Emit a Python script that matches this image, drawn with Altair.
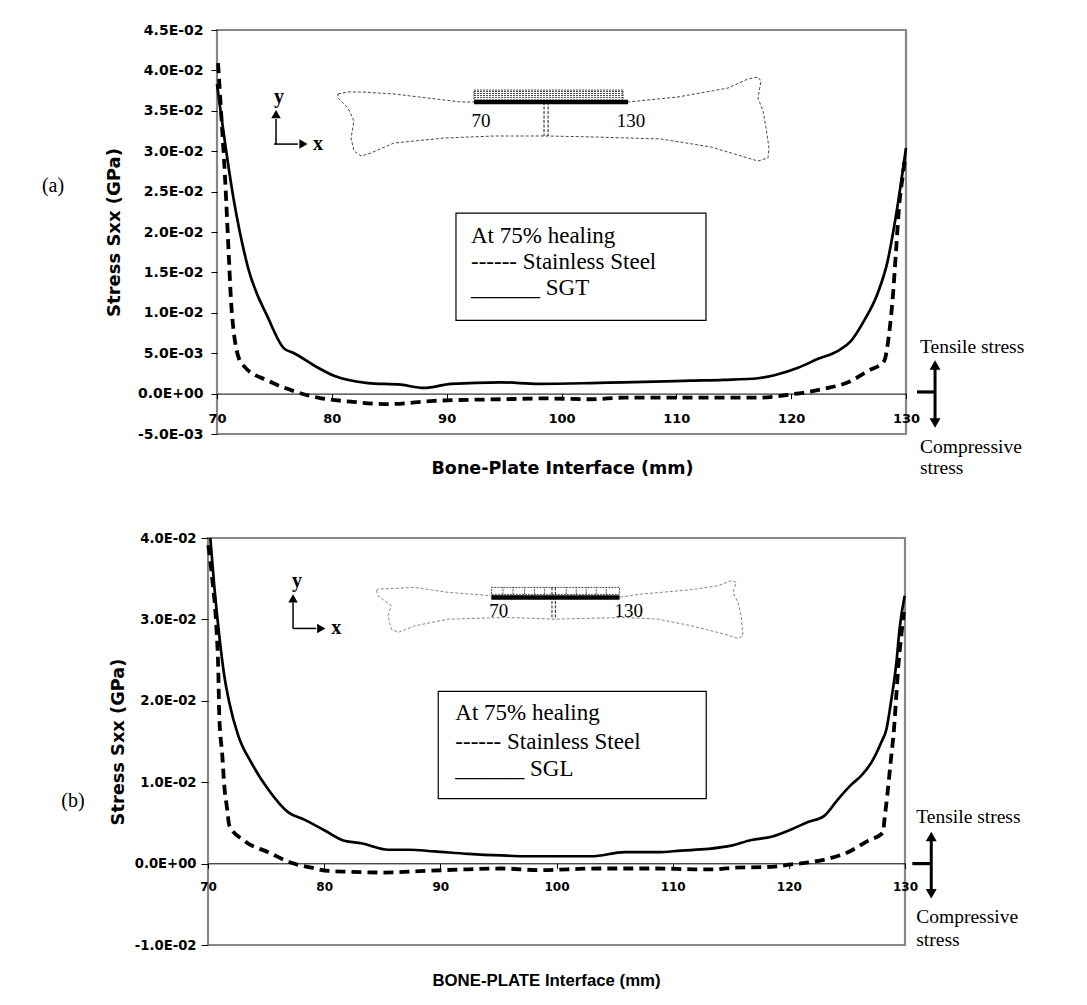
import altair as alt
import pandas as pd

SANS = "DejaVu Sans"
SERIF = "Liberation Serif"
ARIAL = "Liberation Sans"

X_TICKS = [70, 80, 90, 100, 110, 120, 130]
Y_TICKS_A = [-0.005, 0.0, 0.005, 0.01, 0.015, 0.02, 0.025, 0.03, 0.035, 0.04, 0.045]
Y_TICKS_B = [-0.01, 0.0, 0.01, 0.02, 0.03, 0.04]

# ---------------- Panel (a) : Stainless Steel vs SGT ----------------
A_SGT_X = [70.0, 71.48, 72.70, 74.44, 75.83, 76.71, 78.80, 80.19, 83.15, 86.02, 88.03, 90.38, 94.73, 98.0,
           102.57, 105.44, 111.28, 114.15, 117.11, 118.85, 120.6, 122.34, 124.08, 125.2, 126.34, 127.5,
           128.4, 129.1, 130.0]
A_SGT_Y = [0.0383, 0.0238, 0.0156, 0.0094, 0.0056, 0.0050, 0.0032, 0.0022, 0.0013, 0.0011, 0.0007, 0.0012,
           0.0014, 0.0012, 0.0013, 0.0014, 0.0016, 0.0017, 0.0019, 0.0024, 0.0032, 0.0043, 0.0053, 0.0065,
           0.0090, 0.0123, 0.0164, 0.0218, 0.0304]
A_SS_X = [70.09, 70.35, 70.70, 71.05, 71.22, 71.48, 71.83, 72.35, 74.44, 76.71, 78.80, 81.67, 84.89, 88.9,
          94.73, 98.5, 102.57, 105.44, 111.28, 117.11, 119.99, 122.86, 124.95, 126.7, 128.08, 128.52, 128.87,
          129.13, 129.39, 129.74, 129.91]
A_SS_Y = [0.0409, 0.0350, 0.0267, 0.0164, 0.0115, 0.0074, 0.0047, 0.0034, 0.0016, 0.0003, -0.0005, -0.0010,
          -0.0013, -0.0009, -0.0007, -0.0006, -0.0007, -0.0005, -0.0005, -0.0005, -0.0001, 0.0006, 0.0014,
          0.0028, 0.0040, 0.0073, 0.0123, 0.0176, 0.0230, 0.0272, 0.0291]

# bone sketch of panel (a), in chart units
BONE_A_X = [80.54, 81.41, 82.54, 85.41, 88.37, 91.25, 92.38, 105.79, 110.15, 114.5, 116.24, 117.11, 117.37,
            117.11, 117.55, 117.81, 118.07, 117.98, 117.11, 115.63, 113.02, 108.67, 102.83, 98.83, 94.12,
            89.77, 85.41, 83.41, 82.54, 81.93, 81.67, 81.93, 81.41, 80.54, 80.54]
BONE_A_Y = [0.03708, 0.03733, 0.03733, 0.03708, 0.03658, 0.03609, 0.03609, 0.03609, 0.03671, 0.03782, 0.03894,
            0.03918, 0.03869, 0.03658, 0.03498, 0.03287, 0.0304, 0.02916, 0.02879, 0.02941, 0.03052, 0.03151,
            0.03176, 0.03188, 0.03188, 0.03163, 0.03101, 0.02978, 0.02941, 0.03002, 0.03163, 0.03374, 0.03535,
            0.03658, 0.03708]

A = dict(
    name="(a)", name_xy=(55.72, 0.0257),
    ydomain=[-0.005, 0.045], yticks=Y_TICKS_A, width=698, height=404, xrange=[9, 698],
    xoff=-40.4, yoff=-9, xls=13, yls=14, xlp=14, ytick=6, ylp=8,
    xtitle="Bone-Plate Interface (mm)", xtfont=SANS, xtsize=17.5, xtX=354, xtY=74.5,
    ytsize=18, ytX=-103,
    sgt=(A_SGT_X, A_SGT_Y), ss=(A_SS_X, A_SS_Y),
    bone=(BONE_A_X, BONE_A_Y), bone_color="#333333",
    plate=(92.38, 105.79, 0.03609),
    hatch=(92.38, 105.36, 0.03633, 0.03757), hatch_h=[0.03664, 0.03689, 0.03714, 0.03739], hatch_v=[],
    gap=([98.48, 98.83], 0.03609, 0.03188),
    blabels=(["70", "130"], [92.99, 106.05], [0.03374, 0.03374]),
    icon=dict(vx=75.14, vy=(0.03088, 0.0340), vhead=0.0346, hx=(74.96, 77.05), hy=0.03088, hhead=77.53,
              ylab=(75.4, 0.03596), xlab=(78.36, 0.03014)),
    box=(90.81, 112.58, 0.00907, 0.02234), leg_x=92.12, leg_y=[0.01864, 0.0154, 0.0122],
    leg_txt=["At 75% healing", "------ Stainless Steel", "______ SGT"],
    arrow=dict(x=132.53, top=0.00354, bot=-0.00364, tick=(130.96, 132.53, 0.0002)),
    side_x=131.22, side_y=[0.00502, -0.00735, -0.00995],
)

# ---------------- Panel (b) : Stainless Steel vs SGL ----------------
B_SGL_X = [70.2, 70.54, 70.97, 71.40, 71.83, 72.61, 73.73, 75.19, 76.91, 78.29, 80.01, 81.73, 83.2, 85.52,
           87.24, 89.48, 92.41, 95.25, 97.5, 100.5, 103.0, 105.86, 108.74, 110.74, 113.04, 115.05, 116.77,
           118.5, 120.2, 121.64, 123.08, 124.23, 125.38, 126.24, 127.1, 127.96, 128.4, 128.83, 129.26,
           129.53, 129.97]
B_SGL_Y = [0.0400, 0.0341, 0.0280, 0.0231, 0.0198, 0.0157, 0.0124, 0.0091, 0.0063, 0.0054, 0.0041, 0.0028,
           0.0025, 0.0017, 0.0017, 0.0015, 0.0012, 0.0010, 0.0009, 0.0009, 0.0009, 0.0014, 0.0014, 0.0016,
           0.0018, 0.0022, 0.0029, 0.0033, 0.0042, 0.0051, 0.0059, 0.0079, 0.0097, 0.0108, 0.0124, 0.0149,
           0.0165, 0.0202, 0.0247, 0.0288, 0.0329]
B_SS_X = [70.03, 70.37, 70.71, 70.89, 70.97, 71.23, 71.40, 71.66, 71.83, 73.13, 75.19, 77.17, 78.89, 80.36,
          82.08, 85.18, 88.62, 92.41, 95.25, 98.5, 101.0, 103.57, 108.74, 111.89, 113.6, 115.33, 118.5, 120.2,
          121.93, 123.65, 125.09, 126.81, 128.1, 128.24, 128.47, 128.76, 129.05, 129.25, 129.45, 129.68, 129.91]
B_SS_Y = [0.0391, 0.0349, 0.0293, 0.0235, 0.0182, 0.0133, 0.0096, 0.0066, 0.0047, 0.0028, 0.0014, 0.0001,
          -0.0005, -0.0009, -0.0010, -0.0011, -0.0009, -0.0007, -0.0006, -0.0008, -0.0007, -0.0006, -0.0006,
          -0.0007, -0.0007, -0.0005, -0.0004, -0.0001, 0.0002, 0.0007, 0.0014, 0.0028, 0.0038, 0.0055, 0.0083,
          0.0124, 0.0165, 0.0206, 0.0247, 0.0280, 0.0309]

BONE_B_X = [84.49, 84.63, 87.76, 90.66, 94.39, 105.29, 107.3, 111.6, 113.9, 115.05, 115.48, 115.19, 115.62,
            115.9, 116.05, 115.62, 114.47, 111.6, 108.74, 105.86, 99.84, 95.82, 90.66, 87.78, 86.36, 85.78,
            85.49, 85.78, 84.63, 84.49]
BONE_B_Y = [0.03353, 0.03372, 0.03393, 0.03332, 0.03291, 0.0327, 0.03311, 0.03365, 0.03414, 0.03476, 0.03455,
            0.03332, 0.03209, 0.03045, 0.02799, 0.02766, 0.02819, 0.02922, 0.03003, 0.03024, 0.03003, 0.03024,
            0.03003, 0.0292, 0.0284, 0.0288, 0.03045, 0.03168, 0.03291, 0.03353]

B = dict(
    name="(b)", name_xy=(58.38, 0.00771),
    ydomain=[-0.01, 0.04], yticks=Y_TICKS_B, width=697, height=407, xrange=[0, 697],
    xoff=-81.7, yoff=0, xls=12, yls=13.2, xlp=13, ytick=7, ylp=5,
    xtitle="BONE-PLATE Interface (mm)", xtfont=ARIAL, xtsize=16.8, xtX=338, xtY=117.5,
    ytsize=17.8, ytX=-90,
    sgt=(B_SGL_X, B_SGL_Y), ss=(B_SS_X, B_SS_Y),
    bone=(BONE_B_X, BONE_B_Y), bone_color="#777777",
    plate=(94.39, 105.43, 0.0327),
    hatch=(94.39, 105.43, 0.03307, 0.03393), hatch_h=[],
    hatch_v=[95.39, 96.25, 97.25, 98.11, 98.98, 100.84, 101.7, 102.56, 103.42, 104.28],
    gap=([99.61, 99.9], 0.03393, 0.03003),
    blabels=(["70", "130"], [95.03, 106.22], [0.03098, 0.03098]),
    icon=dict(vx=77.32, vy=(0.02889, 0.0321), vhead=0.03258, hx=(77.32, 79.32), hy=0.02889, hhead=79.75,
              ylab=(77.67, 0.03393), xlab=(80.61, 0.02819)),
    box=(89.82, 112.89, 0.00799, 0.02115), leg_x=91.29, leg_y=[0.01758, 0.01402, 0.01082],
    leg_txt=["At 75% healing", "------ Stainless Steel", "______ SGL"],
    arrow=dict(x=132.26, top=0.00332, bot=-0.00369, tick=(130.63, 132.26, 0.0)),
    side_x=130.97, side_y=[0.00495, -0.00734, -0.01012],
)

SIDE_TXT = ["Tensile stress", "Compressive", "stress"]
Y_LABEL_EXPR = ("replace(replace(replace(format(datum.value, '.1e'), 'e-', 'E-0'), 'e+', 'E+0'), "
                "'\u2212', '-')")


def build(P):
    xs = alt.Scale(domain=[70, 130], range=P["xrange"], nice=False, zero=False)
    ys = alt.Scale(domain=P["ydomain"], nice=False, zero=False)
    xaxis = alt.Axis(values=X_TICKS, format="d", offset=P["xoff"], grid=False, domainColor="black",
                     domainWidth=1, tickColor="black", tickSize=5, tickWidth=1, labelFlush=False,
                     labelOverlap=False, labelFont=SANS, labelFontWeight="bold", labelFontSize=P["xls"],
                     labelColor="black", labelPadding=P["xlp"], title=P["xtitle"], titleFont=P["xtfont"],
                     titleFontWeight="bold", titleFontSize=P["xtsize"], titleColor="black",
                     titleX=P["xtX"], titleY=P["xtY"], titleBaseline="middle", titleAlign="center", zindex=1)
    yaxis = alt.Axis(values=P["yticks"], labelExpr=Y_LABEL_EXPR, offset=P["yoff"], grid=False, domain=False,
                     tickColor="black", tickSize=P["ytick"], tickWidth=1, labelFlush=False, labelOverlap=False,
                     labelFont=SANS, labelFontWeight="bold", labelFontSize=P["yls"], labelColor="black",
                     labelPadding=P["ylp"], title="Stress Sxx (GPa)", titleFont=SANS, titleFontWeight="bold",
                     titleFontSize=P["ytsize"], titleColor="black", titleX=P["ytX"], titleBaseline="middle",
                     zindex=1)

    def ex(f="x"):
        return alt.X(f"{f}:Q", scale=xs, axis=xaxis)

    def ey(f="y"):
        return alt.Y(f"{f}:Q", scale=ys, axis=yaxis)

    def texts(xv, yv, tv, size, font, weight="normal", align="left", baseline="alphabetic"):
        d = pd.DataFrame({"x": xv, "y": yv, "t": tv})
        return alt.Chart(d).mark_text(font=font, fontSize=size, fontWeight=weight, align=align,
                                      baseline=baseline, color="black").encode(x=ex(), y=ey(), text="t:N")

    def hrule(x1, x2, y, **kw):
        d = pd.DataFrame({"x": [x1], "x2": [x2], "y": [y]})
        return alt.Chart(d).mark_rule(**kw).encode(x=ex(), x2="x2:Q", y=ey())

    def vrules(xv, y1, y2, **kw):
        d = pd.DataFrame({"x": xv, "y": [y1] * len(xv), "y2": [y2] * len(xv)})
        return alt.Chart(d).mark_rule(**kw).encode(x=ex(), y=ey(), y2="y2:Q")

    def head(x, y, shape, size):
        d = pd.DataFrame({"x": [x], "y": [y]})
        return alt.Chart(d).mark_point(shape=shape, filled=True, size=size, color="black", opacity=1,
                                       strokeWidth=0).encode(x=ex(), y=ey())

    layers = []
    y0, y1 = P["ydomain"]
    frame = pd.DataFrame({"x": [70], "x2": [130], "y": [y0], "y2": [y1]})
    layers.append(alt.Chart(frame).mark_rect(fill="transparent", stroke="#878787", strokeWidth=2.2)
                  .encode(x=ex(), x2="x2:Q", y=ey(), y2="y2:Q"))

    sgt = pd.DataFrame({"x": P["sgt"][0], "y": P["sgt"][1]})
    layers.append(alt.Chart(sgt).mark_line(color="black", strokeWidth=2.7, interpolate="monotone")
                  .encode(x=ex(), y=ey()))
    ss = pd.DataFrame({"x": P["ss"][0], "y": P["ss"][1]})
    layers.append(alt.Chart(ss).mark_line(color="black", strokeWidth=3.8, strokeDash=[10, 6],
                                          interpolate="monotone").encode(x=ex(), y=ey()))

    # bone sketch
    bone = pd.DataFrame({"x": P["bone"][0], "y": P["bone"][1], "i": list(range(len(P["bone"][0])))})
    layers.append(alt.Chart(bone).mark_line(color=P["bone_color"], strokeWidth=0.9, strokeDash=[3, 2])
                  .encode(x=ex(), y=ey(), order="i:Q"))
    hx1, hx2, hy1, hy2 = P["hatch"]
    hd = pd.DataFrame({"x": [hx1], "x2": [hx2], "y": [hy1], "y2": [hy2]})
    layers.append(alt.Chart(hd).mark_rect(fill="white", stroke="#222222", strokeWidth=0.8, strokeDash=[2, 1])
                  .encode(x=ex(), x2="x2:Q", y=ey(), y2="y2:Q"))
    for hy in P["hatch_h"]:
        layers.append(hrule(hx1, hx2, hy, color="#222222", strokeWidth=0.8, strokeDash=[2, 1]))
    if P["hatch_v"]:
        layers.append(vrules(P["hatch_v"], hy1, hy2, color="#222222", strokeWidth=0.8, strokeDash=[2, 1]))
    gx, gy1, gy2 = P["gap"]
    layers.append(vrules(gx, gy1, gy2, color="black", strokeWidth=0.9, strokeDash=[3, 1.5]))
    px1, px2, py = P["plate"]
    layers.append(hrule(px1, px2, py, color="black", strokeWidth=4.5))
    bl = P["blabels"]
    layers.append(texts(bl[1], bl[2], bl[0], 19, SERIF, align="center", baseline="middle"))

    # x / y icon
    ic = P["icon"]
    layers.append(vrules([ic["vx"]], ic["vy"][0], ic["vy"][1], color="black", strokeWidth=1.5))
    layers.append(head(ic["vx"], ic["vhead"], "triangle-up", 90))
    layers.append(hrule(ic["hx"][0], ic["hx"][1], ic["hy"], color="black", strokeWidth=1.5))
    layers.append(head(ic["hhead"], ic["hy"], "triangle-right", 90))
    layers.append(texts([ic["ylab"][0]], [ic["ylab"][1]], ["y"], 20, SERIF, weight="bold", align="center"))
    layers.append(texts([ic["xlab"][0]], [ic["xlab"][1]], ["x"], 20, SERIF, weight="bold"))

    # legend box
    bx1, bx2, by1, by2 = P["box"]
    bd = pd.DataFrame({"x": [bx1], "x2": [bx2], "y": [by1], "y2": [by2]})
    layers.append(alt.Chart(bd).mark_rect(fill="white", stroke="black", strokeWidth=1.2)
                  .encode(x=ex(), x2="x2:Q", y=ey(), y2="y2:Q"))
    layers.append(texts([P["leg_x"]] * 3, P["leg_y"], P["leg_txt"], 23, SERIF))

    # tensile / compressive indicator
    ar = P["arrow"]
    layers.append(vrules([ar["x"]], ar["top"], ar["bot"], color="black", strokeWidth=3))
    layers.append(head(ar["x"], ar["top"], "triangle-up", 120))
    layers.append(head(ar["x"], ar["bot"], "triangle-down", 120))
    tx1, tx2, ty = ar["tick"]
    layers.append(hrule(tx1, tx2, ty, color="black", strokeWidth=3.2))
    layers.append(texts([P["side_x"]] * 3, P["side_y"], SIDE_TXT, 19.5, SERIF))

    # panel label
    layers.append(texts([P["name_xy"][0]], [P["name_xy"][1]], [P["name"]], 20, SERIF,
                        align="center", baseline="middle"))

    return alt.layer(*layers).properties(width=P["width"], height=P["height"])


chart = alt.vconcat(build(A), build(B), spacing=53).properties(
    padding={"left": 33, "top": 15, "right": 5, "bottom": 5},
    background="white",
).configure_view(strokeWidth=0)

chart.save("out.html", embed_options={"renderer": "svg", "actions": False})
